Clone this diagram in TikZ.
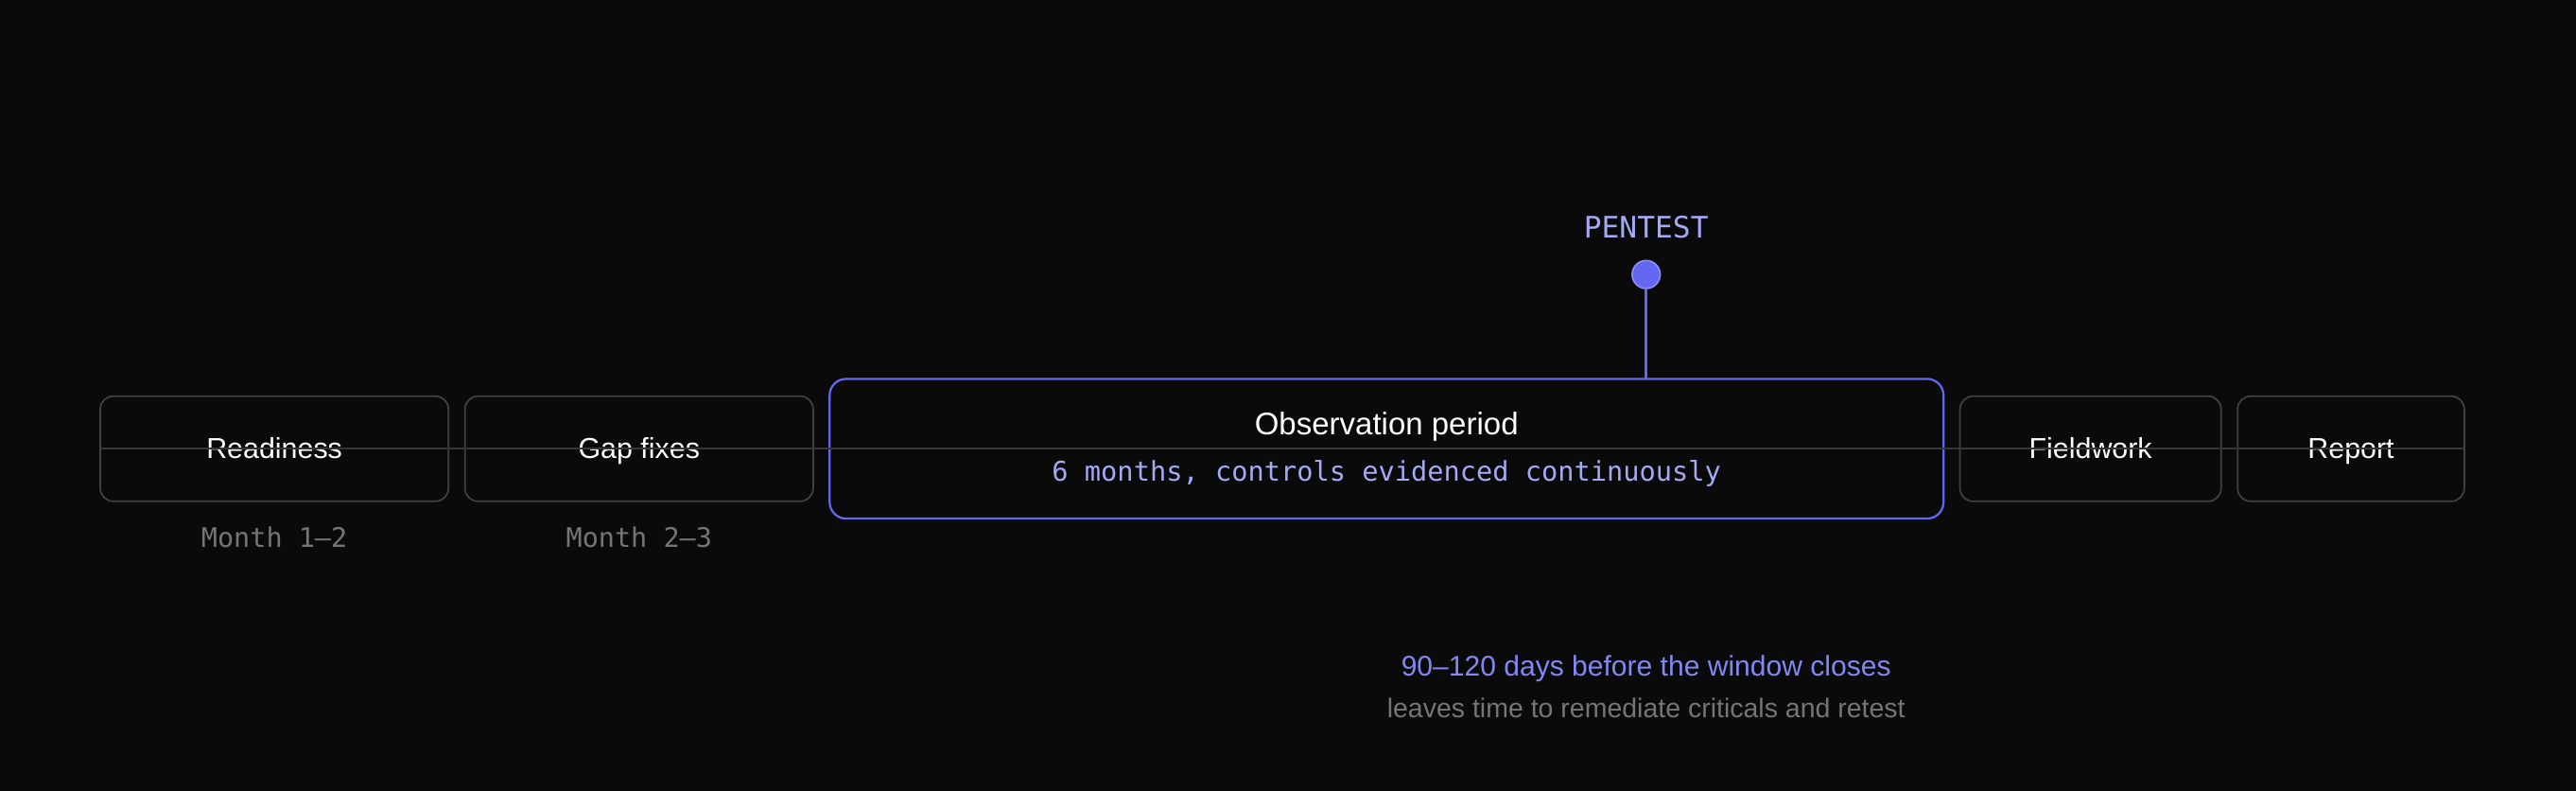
\documentclass[tikz,border=0pt]{standalone}
\usepackage{fontspec}
\setmainfont{Liberation Sans}
\setmonofont{DejaVu Sans Mono}
\usetikzlibrary{positioning}
\definecolor{bgdark}{HTML}{0A0A0A}
\definecolor{boxgray}{HTML}{414141}
\definecolor{railgray}{HTML}{363636}
\definecolor{indigo}{HTML}{6366F1}
\definecolor{indigolight}{HTML}{8A8EF5}
\definecolor{lavender}{HTML}{A5A8F2}
\definecolor{windowblue}{HTML}{8287F2}
\definecolor{mutedgray}{HTML}{757575}

\begin{document}
\begin{tikzpicture}[x=1pt, y=1pt,
	phase/.style={draw=boxgray, line width=1pt, rounded corners=8pt, minimum height=64pt, inner sep=0pt, outer sep=0pt, text=white, text height=12pt, text depth=0pt, font=\fontsize{17.5}{20}\selectfont},
	mainphase/.style={draw=indigo, line width=1.3pt, rounded corners=10pt, minimum height=85pt, inner sep=0pt, outer sep=0pt},
	caption/.style={inner sep=0pt, text height=12pt, text depth=0pt},
	month/.style={caption, text=mutedgray, font=\ttfamily\fontsize{16.4}{19}\selectfont},
	pindot/.style={circle, fill=indigo, draw=indigolight, line width=1pt, minimum size=17pt, inner sep=0pt}]
		%%%%% START %%%%%
		
		\fill[bgdark] (0, 0) rectangle (1568, -481);
		\useasboundingbox (0, 0) rectangle (1568, -481);
		
		\node[phase, minimum width=212pt] (ready) at (167, -273) {Readiness};
		\node[phase, minimum width=212pt, right=10pt of ready] (gaps) {Gap fixes};
		\node[mainphase, minimum width=678pt, right=10pt of gaps] (obs) {};
		\node[phase, minimum width=159pt, right=10pt of obs] (field) {Fieldwork};
		\node[phase, minimum width=138pt, right=10pt of field] (report) {Report};
		
		\draw[railgray, line width=1pt] (ready.west) -- (report.east);
		
		\node[caption, text height=13.4pt, text=white, font=\fontsize{19}{22}\selectfont] (obstitle) at ([yshift=15pt]obs.center) {Observation period};
		\node[caption, text=lavender, font=\ttfamily\fontsize{16.5}{19}\selectfont] (obssub) at ([yshift=-13.5pt]obs.center) {6 months, controls evidenced continuously};
		
		\node[month] (readym) at ([yshift=-22pt]ready.south) {Month 1–2};
		\node[month] (gapsm) at ([yshift=-22pt]gaps.south) {Month 2–3};
		
		\node[pindot] (pin) at (1002, -167) {};
		\draw[indigo, line width=1.5pt] (pin.south) -- (pin.south |- obs.north);
		\node[caption, text height=13pt, text=lavender, font=\ttfamily\fontsize{18}{21}\selectfont] (pentest) at (1002, -138) {PENTEST};
		
		\node[caption, text=windowblue, font=\fontsize{17.3}{20}\selectfont] (window) at (1002, -405) {90–120 days before the window closes};
		\node[caption, text height=11.5pt, text=mutedgray, font=\fontsize{16.4}{19}\selectfont] (retest) at (1002, -431) {leaves time to remediate criticals and retest};
		
		%%%%% END %%%%%
	\end{tikzpicture}
\end{document}
